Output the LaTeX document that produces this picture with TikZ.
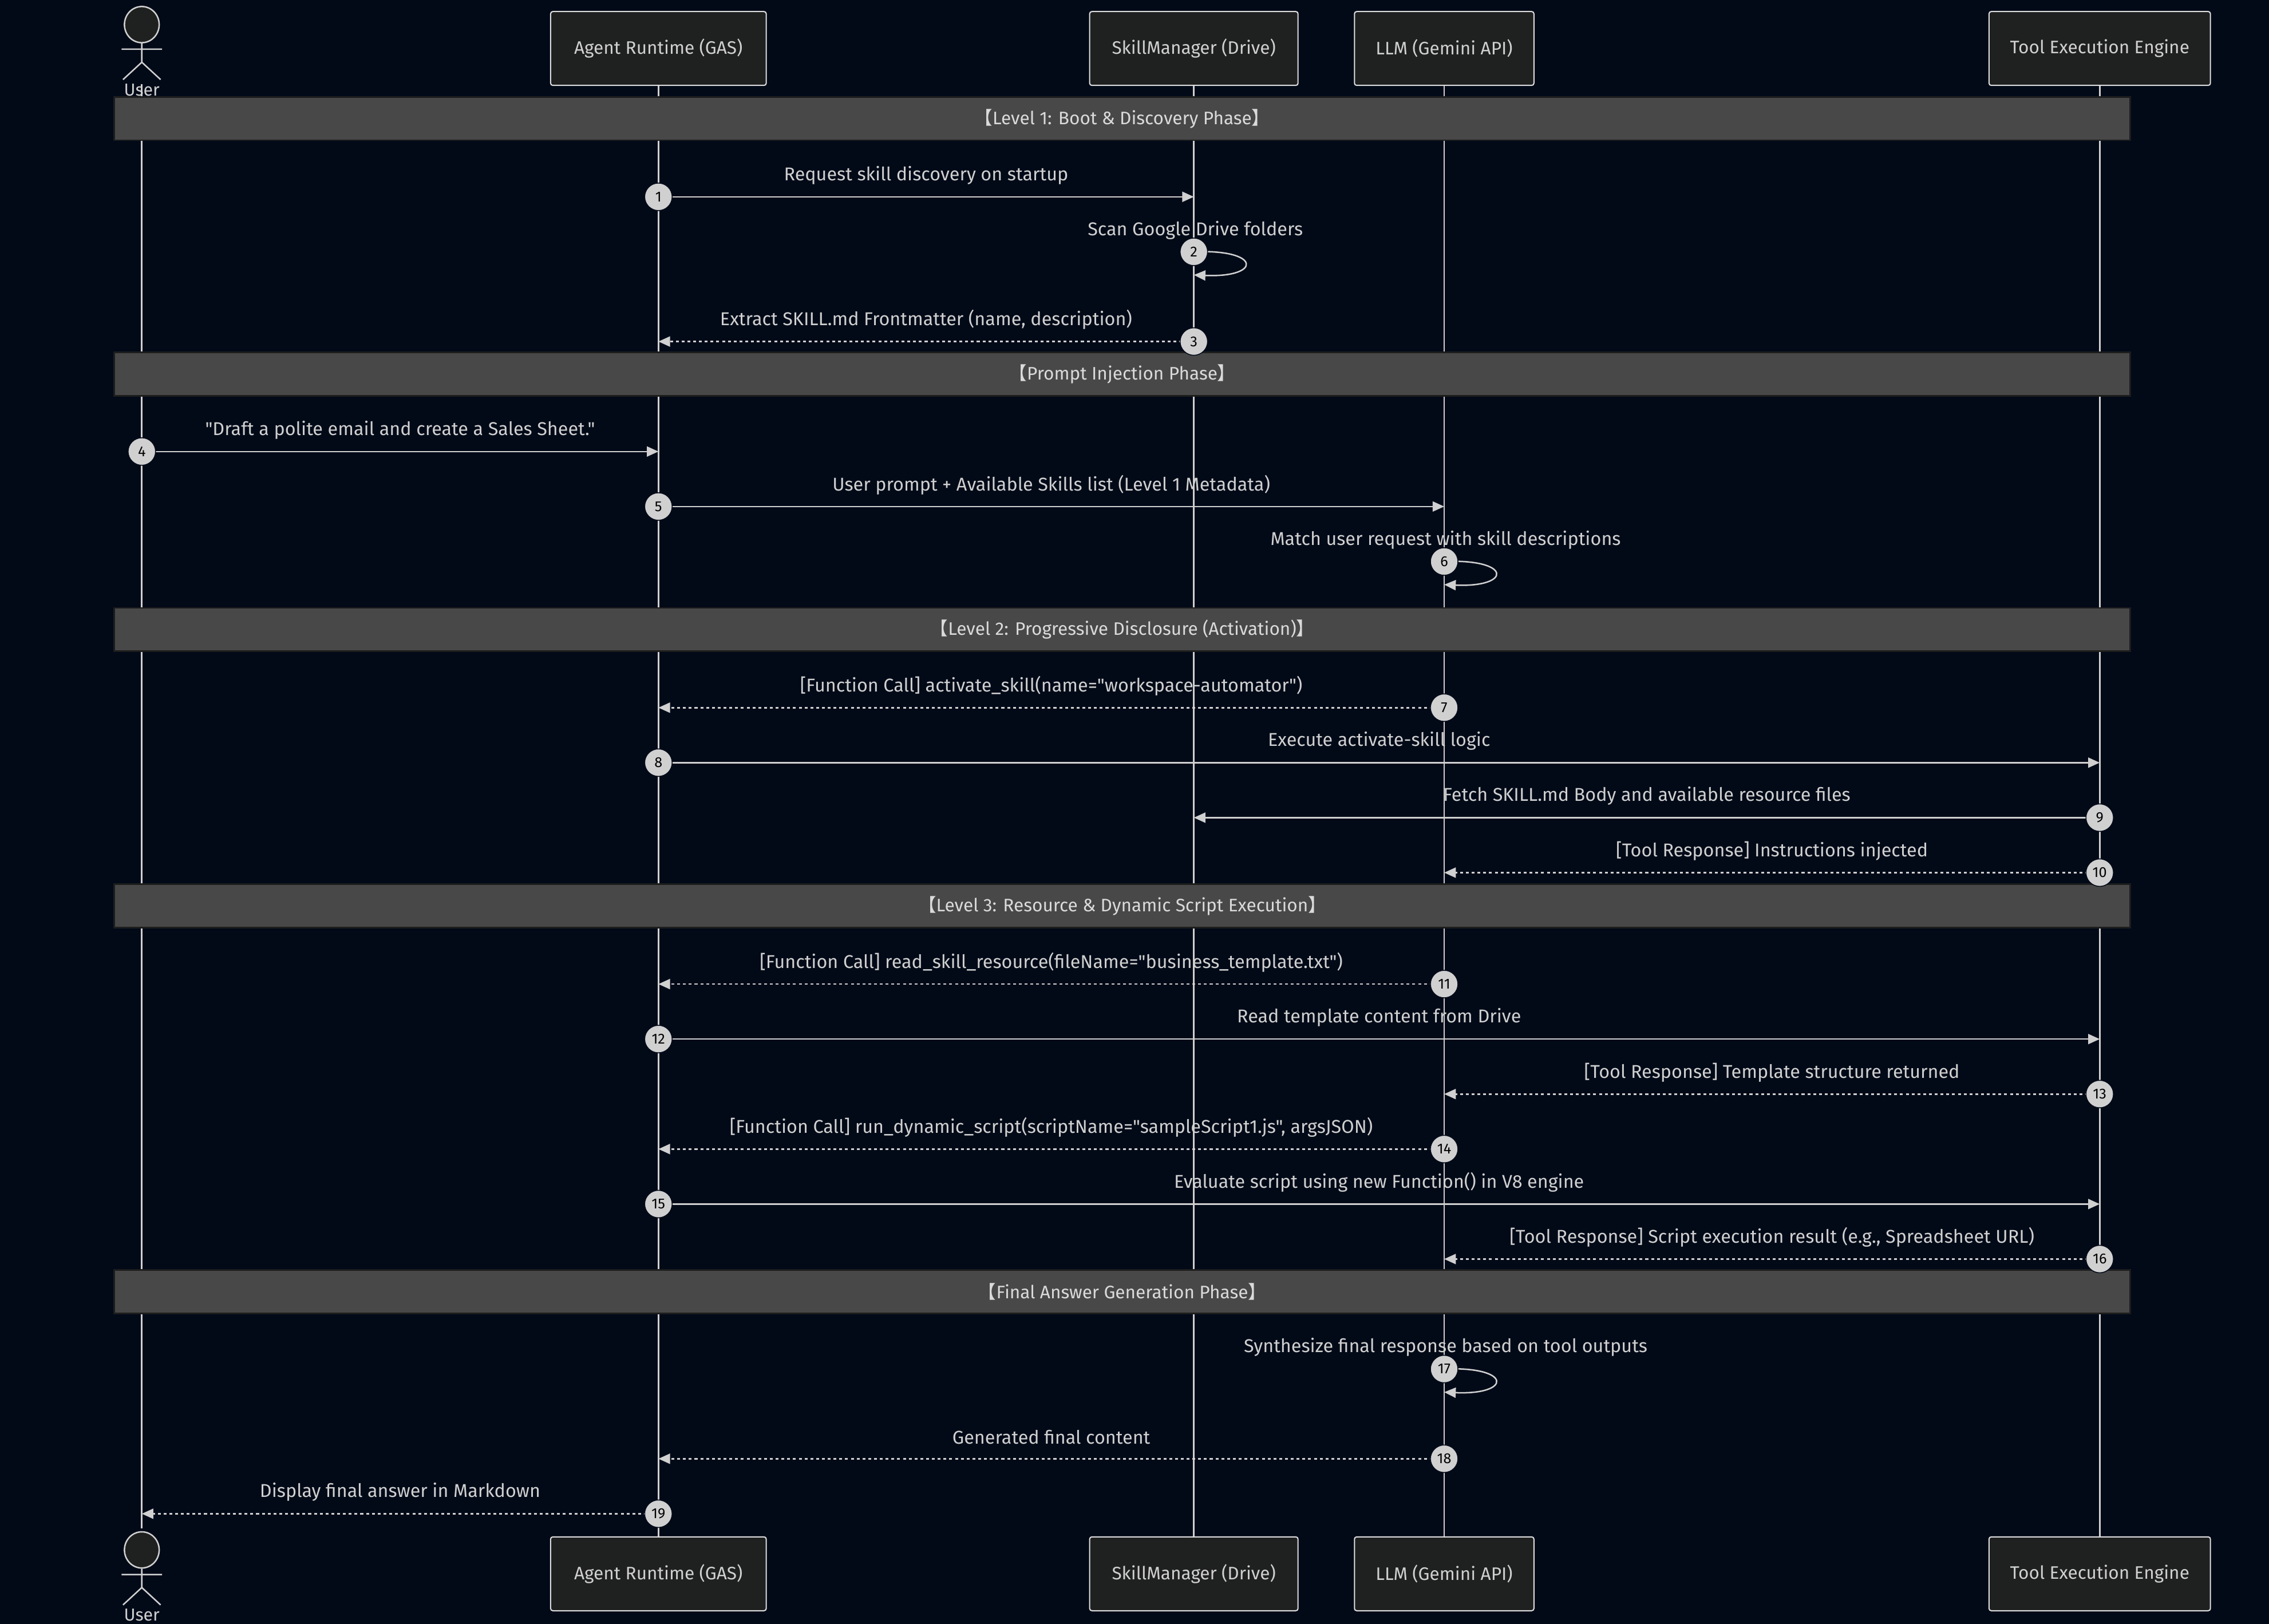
\documentclass[tikz,border=0pt]{standalone}
\usepackage{fontspec}
\setmainfont{Fira Sans}[Ligatures=TeXOff]
\newfontfamily\cjk{Noto Sans CJK SC}
\newcommand\lb{{\cjk 【}}
\newcommand\rb{{\cjk 】}}
\newcommand\qq{\symbol{34}}
\usetikzlibrary{arrows.meta,calc}
\definecolor{bg}{HTML}{020A18}
\definecolor{ln}{HTML}{D0D0D0}
\definecolor{box}{HTML}{1F2020}
\definecolor{bar}{HTML}{484848}
\begin{document}
\begin{tikzpicture}[x=1pt,y=-1pt,
  part/.style={draw=ln!70,fill=box,rounded corners=1.5pt,minimum height=51pt,text=ln,font=\fontsize{12.5}{14}\selectfont,line width=0.8pt},
  life/.style={draw=ln,line width=1pt},
  phase/.style={draw=black!60!bar,fill=bar,line width=1pt,minimum height=30pt,minimum width=1393pt,text=ln!80,font=\fontsize{12.5}{14}\selectfont},
  num/.style={circle,fill=ln,draw=bg,line width=0.6pt,inner sep=0pt,minimum size=19pt,text=black,font=\fontsize{10}{11}\selectfont},
  lbl/.style={text=ln,font=\fontsize{12.8}{14}\selectfont,inner sep=1pt},
  sol/.style={draw=ln,line width=1pt,-{Triangle[length=8pt,width=7pt]}},
  dot/.style={sol,dash pattern=on 2pt off 2pt}]
\fill[bg] (0,0) rectangle (1568,1122);
\useasboundingbox (0,0) rectangle (1568,1122);
% lifelines
\coordinate (U) at (98,0); \coordinate (A) at (455,0); \coordinate (S) at (825,0);
\coordinate (L) at (998,0); \coordinate (T) at (1451,0);
\foreach \c in {U,A,S,L,T} \draw[life] (\c |- 0,40) -- (\c |- 0,1080);
% participants
\foreach \c/\w/\t/\n in {A/149/Agent Runtime (GAS)/a,S/144/SkillManager (Drive)/s,L/124/LLM (Gemini API)/l,T/153/Tool Execution Engine/t}{
  \node[part,minimum width=\w pt] (\n top) at (\c |- 0,33.5) {\t};
  \node[part,minimum width=\w pt] (\n bot) at (\c |- 0,1087.5) {\t};}
% actors
\foreach \y/\n in {0/utop,1054/ubot}{
  \begin{scope}[shift={(0,\y)}]
  \fill[bg] (84,2) rectangle (112,58);
  \draw[ln,fill=box,line width=1pt] (98,17) ellipse (12 and 12.5);
  \draw[ln,line width=1pt] (84,34) -- (112,34) (98,30) -- (98,43) (85,55) -- (98,43) -- (111,55);
  \node[lbl,font=\fontsize{12}{13}\selectfont] (\n) at (98,62) {User};
  \end{scope}}
% phases
\foreach \y/\n/\t in {82/p1/\lb Level 1: Boot \& Discovery Phase\rb,258.5/p2/\lb Prompt Injection Phase\rb,435/p3/\lb Level 2: Progressive Disclosure (Activation)\rb,626/p4/\lb Level 3: Resource \& Dynamic Script Execution\rb,892.5/p5/\lb Final Answer Generation Phase\rb}
  \node[phase] (\n) at (775.5,\y) {\t};
% messages
\newcommand\msg[6]{%
  \coordinate (m#4a) at (#1 |- 0,#3); \coordinate (m#4b) at (#2 |- 0,#3);
  \draw[#6] (m#4a) -- (m#4b);
  \path (m#4a) -- (m#4b) node[lbl,midway,yshift=15pt] (t#4) {#5};
  \node[num] (n#4) at (m#4a) {#4};}
\newcommand\self[4]{%
  \coordinate (m#3a) at (#1 |- 0,#2); \coordinate (m#3b) at ($(m#3a)+(0,16)$);
  \draw[sol] (m#3a) .. controls ($(m#3a)+(47,-2)$) and ($(m#3b)+(47,2)$) .. (m#3b);
  \node[lbl] (t#3) at ($(m#3a)+(1,-15)$) {#4};
  \node[num] (n#3) at (m#3a) {#3};}
\msg{A}{S}{136}{1}{Request skill discovery on startup}{sol}
\self{S}{174}{2}{Scan Google Drive folders}
\msg{S}{A}{236}{3}{Extract SKILL.md Frontmatter (name, description)}{dot}
\msg{U}{A}{312}{4}{\qq Draft a polite email and create a Sales Sheet.\qq}{sol}
\msg{A}{L}{350}{5}{User prompt + Available Skills list (Level 1 Metadata)}{sol}
\self{L}{388}{6}{Match user request with skill descriptions}
\msg{L}{A}{489}{7}{[Function Call] activate\_skill(name=\qq workspace-automator\qq)}{dot}
\msg{A}{T}{527}{8}{Execute activate-skill logic}{sol}
\msg{T}{S}{565}{9}{Fetch SKILL.md Body and available resource files}{sol}
\msg{T}{L}{603}{10}{[Tool Response] Instructions injected}{dot}
\msg{L}{A}{680}{11}{[Function Call] read\_skill\_resource(fileName=\qq business\_template.txt\qq)}{dot}
\msg{A}{T}{718}{12}{Read template content from Drive}{sol}
\msg{T}{L}{756}{13}{[Tool Response] Template structure returned}{dot}
\msg{L}{A}{794}{14}{[Function Call] run\_dynamic\_script(scriptName=\qq sampleScript1.js\qq, argsJSON)}{dot}
\msg{A}{T}{832}{15}{Evaluate script using new Function() in V8 engine}{sol}
\msg{T}{L}{870}{16}{[Tool Response] Script execution result (e.g., Spreadsheet URL)}{dot}
\self{L}{946}{17}{Synthesize final response based on tool outputs}
\msg{L}{A}{1008}{18}{Generated final content}{dot}
\msg{A}{U}{1046}{19}{Display final answer in Markdown}{dot}
\end{tikzpicture}
\end{document}
